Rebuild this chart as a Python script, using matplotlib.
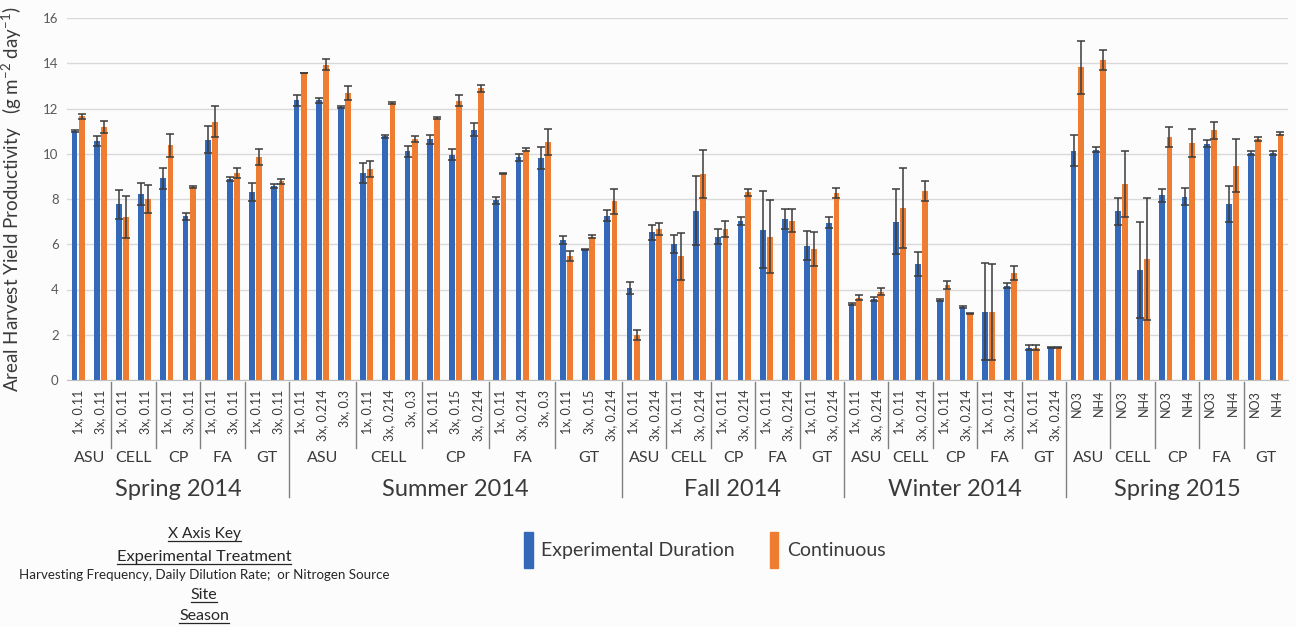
import matplotlib
matplotlib.use('Agg')
import matplotlib.pyplot as plt
import numpy as np
from matplotlib.patches import Patch
from matplotlib.lines import Line2D
from matplotlib.transforms import blended_transform_factory

# ---------------- data ----------------
seasons = ['Spring 2014', 'Summer 2014', 'Fall 2014', 'Winter 2014', 'Spring 2015']
sites = ['ASU', 'CELL', 'CP', 'FA', 'GT']

treat_spring14 = [['1x, 0.11', '3x, 0.11']] * 5
treat_summer14 = [['1x, 0.11', '3x, 0.214', '3x, 0.3'],
                  ['1x, 0.11', '3x, 0.214', '3x, 0.3'],
                  ['1x, 0.11', '3x, 0.15', '3x, 0.214'],
                  ['1x, 0.11', '3x, 0.214', '3x, 0.3'],
                  ['1x, 0.11', '3x, 0.15', '3x, 0.214']]
treat_fall14 = [['1x, 0.11', '3x, 0.214']] * 5
treat_winter14 = [['1x, 0.11', '3x, 0.214']] * 5
treat_spring15 = [['NO3', 'NH4']] * 5

exp_duration = [
    11.02, 10.55, 7.77, 8.22, 8.92, 7.23, 10.62, 8.89, 8.32, 8.58,
    12.36, 12.36, 12.08, 9.13, 10.77, 10.10, 10.65, 9.96, 11.06, 7.94, 9.84, 9.81, 6.19, 5.78, 7.27,
    4.06, 6.52, 6.00, 7.48, 6.34, 7.04, 6.64, 7.12, 5.94, 6.96,
    3.36, 3.57, 7.00, 5.13, 3.54, 3.24, 3.02, 4.17, 1.43, 1.45,
    10.13, 10.18, 7.45, 4.87, 8.16, 8.11, 10.44, 7.79, 10.03, 10.03]
exp_err = [
    0.05, 0.22, 0.64, 0.50, 0.47, 0.15, 0.60, 0.08, 0.39, 0.08,
    0.25, 0.10, 0.05, 0.44, 0.08, 0.23, 0.20, 0.23, 0.28, 0.15, 0.16, 0.49, 0.18, 0.03, 0.24,
    0.26, 0.33, 0.40, 1.52, 0.32, 0.17, 1.70, 0.44, 0.65, 0.26,
    0.05, 0.10, 1.42, 0.52, 0.03, 0.04, 2.14, 0.10, 0.12, 0.02,
    0.68, 0.12, 0.58, 2.12, 0.30, 0.37, 0.15, 0.80, 0.07, 0.10]
continuous = [
    11.65, 11.17, 7.20, 8.00, 10.37, 8.52, 11.42, 9.14, 9.85, 8.78,
    13.57, 13.94, 12.68, 9.31, 12.24, 10.65, 11.58, 12.35, 12.90, 9.14, 10.18, 10.52, 5.49, 6.34, 7.89,
    1.99, 6.67, 5.46, 9.10, 6.67, 8.30, 6.34, 7.04, 5.80, 8.26,
    3.64, 3.91, 7.60, 8.36, 4.20, 2.95, 3.00, 4.72, 1.43, 1.45,
    13.82, 14.13, 8.67, 5.34, 10.74, 10.47, 11.03, 9.48, 10.65, 10.89]
cont_err = [
    0.10, 0.26, 0.94, 0.60, 0.50, 0.05, 0.70, 0.22, 0.36, 0.10,
    0.02, 0.26, 0.32, 0.35, 0.03, 0.15, 0.05, 0.24, 0.15, 0.03, 0.08, 0.56, 0.22, 0.07, 0.54,
    0.24, 0.28, 1.03, 1.07, 0.35, 0.15, 1.62, 0.50, 0.74, 0.22,
    0.10, 0.15, 1.75, 0.43, 0.16, 0.03, 2.12, 0.30, 0.12, 0.02,
    1.17, 0.44, 1.46, 2.70, 0.46, 0.63, 0.37, 1.17, 0.07, 0.07]

# ---------------- style ----------------
plt.rcParams['font.family'] = ['Lato', 'DejaVu Sans']
plt.rcParams['mathtext.fontset'] = 'custom'
plt.rcParams['mathtext.rm'] = 'Lato'
plt.rcParams['mathtext.it'] = 'Lato:italic'
plt.rcParams['mathtext.bf'] = 'Lato:bold'

BLUE = '#3468b8'
ORANGE = '#ee7d31'
TXT = '#3a3a3a'
W, H = 1296, 627

fig = plt.figure(figsize=(W / 100, H / 100), dpi=100, facecolor='#fcfcfd')
ax = fig.add_axes([67 / W, 1 - 380 / H, (1288 - 67) / W, 362 / H])
ax.set_facecolor('#fcfcfd')

season_treats = [treat_spring14, treat_summer14, treat_fall14, treat_winter14, treat_spring15]
labels, site_spans, season_spans = [], [], []
idx = 0
for season, treats in zip(seasons, season_treats):
    s0 = idx
    for site, tl in zip(sites, treats):
        site_spans.append((idx, idx + len(tl), site))
        labels.extend(tl)
        idx += len(tl)
    season_spans.append((s0, idx, season))

x = np.arange(len(labels))
bw, off = 0.26, 0.16
ax.bar(x - off, exp_duration, bw, color=BLUE, zorder=2)
ax.bar(x + off, continuous, bw, color=ORANGE, zorder=2)
ekw = dict(fmt='none', ecolor='#3c3c3c', elinewidth=1.1, capsize=2.7, capthick=1.1, zorder=3)
ax.errorbar(x - off, exp_duration, yerr=exp_err, **ekw)
ax.errorbar(x + off, continuous, yerr=cont_err, **ekw)

ax.set_xlim(-0.5, len(labels) - 0.5)
ax.set_ylim(0, 16)
ax.set_yticks(np.arange(0, 17, 2))
ax.yaxis.grid(True, color='#d9d9d9', lw=1)
ax.set_axisbelow(True)
for s in ['left', 'right', 'top']:
    ax.spines[s].set_visible(False)
ax.spines['bottom'].set_color('#bfbfbf')
ax.tick_params(axis='y', length=0, labelsize=9.5, labelcolor='#595959', pad=6)
ax.set_xticks(x)
ax.set_xticklabels(labels, rotation=90, fontsize=9, color=TXT, va='top')
ax.tick_params(axis='x', length=0, pad=7)

ax.set_ylabel('Areal Harvest Yield Productivity   (g m$^{-2}$ day$^{-1}$)',
              fontsize=13.5, color=TXT, labelpad=14)

trans = blended_transform_factory(ax.transData, ax.transAxes)
sep_kw = dict(color='#808080', lw=1, transform=trans, clip_on=False)
for (a, b, name) in site_spans:
    ax.text((a + b - 1) / 2, -(458 - 380) / 362, name, transform=trans,
            ha='center', va='center', fontsize=11.5, color=TXT)
for (a, b, name) in season_spans:
    ax.text((a + b - 1) / 2, -(489 - 380) / 362, name, transform=trans,
            ha='center', va='center', fontsize=17, color=TXT)
season_starts = {a for (a, b, n) in season_spans}
for (a, b, name) in site_spans:
    if a == 0:
        continue
    if a in season_starts:
        ax.plot([a - 0.5, a - 0.5], [-0.006, -(497 - 380) / 362], **sep_kw)
    else:
        ax.plot([a - 0.5, a - 0.5], [-0.006, -(448 - 380) / 362], **sep_kw)

# legend
handles = [Patch(color=BLUE), Patch(color=ORANGE)]
fig.legend(handles, ['Experimental Duration', 'Continuous'], loc='center',
           bbox_to_anchor=(705 / W, 1 - 550 / H), ncol=2, frameon=False,
           fontsize=14, handlelength=0.42, handleheight=2.4, handletextpad=0.45,
           columnspacing=1.8, labelcolor=TXT)

# x-axis key
key = [('X Axis Key', 538, 11.2, True),
       ('Experimental Treatment', 561, 11.8, True),
       ('Harvesting Frequency, Daily Dilution Rate;  or Nitrogen Source', 579, 9.6, False),
       ('Site', 599, 11.5, True),
       ('Season', 620, 11.5, True)]
texts = []
for s, yb, fs, ul in key:
    t = fig.text(204 / W, 1 - yb / H, s, ha='center', va='baseline', fontsize=fs, color='#262626')
    texts.append((t, yb, ul))
fig.canvas.draw()
for t, yb, ul in texts:
    if ul:
        bb = t.get_window_extent()
        yy = 1 - (yb + 3) / H
        fig.add_artist(Line2D([bb.x0 / W, bb.x1 / W], [yy, yy], transform=fig.transFigure,
                              color='#262626', lw=0.9))

fig.savefig('out.png', dpi=100, facecolor=fig.get_facecolor())
